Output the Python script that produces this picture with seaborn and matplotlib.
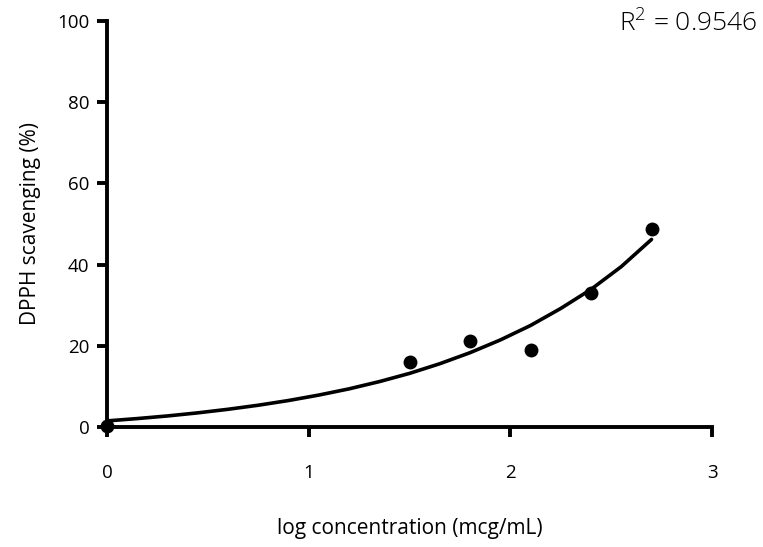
import matplotlib
matplotlib.use("Agg")
import matplotlib.pyplot as plt
import seaborn as sns
import pandas as pd

# measured points
log_conc = [0.0, 1.5, 1.8, 2.1, 2.4, 2.7]
scavenging = [0.2, 16.1, 21.1, 19.0, 33.1, 48.7]

# fitted curve
curve_x = [0.0, 0.15, 0.3, 0.45, 0.6, 0.75, 0.9, 1.05, 1.2, 1.35, 1.5,
           1.65, 1.8, 1.95, 2.1, 2.25, 2.4, 2.55, 2.7]
curve_y = [1.5, 2.07, 2.72, 3.48, 4.36, 5.36, 6.52, 7.86, 9.39, 11.17, 13.2,
           15.58, 18.3, 21.43, 25.0, 29.2, 33.9, 39.5, 46.2]

x_ticks = [0, 1, 2, 3]
y_ticks = [0, 20, 40, 60, 80, 100]
r2_text = "R$^2$ = 0.9546"
x_label = "log concentration (mcg/mL)"
y_label = "DPPH scavenging (%)"

sns.set_theme(style="ticks")
plt.rcParams['font.family'] = ['Open Sans', 'DejaVu Sans']
plt.rcParams['mathtext.fontset'] = 'custom'
plt.rcParams['mathtext.rm'] = 'Open Sans:light'

pts = pd.DataFrame({"x": log_conc, "y": scavenging})
fit = pd.DataFrame({"x": curve_x, "y": curve_y})

fig = plt.figure(figsize=(7.63, 5.47), dpi=100)
ax = fig.add_axes([0.1402, 0.2194, 0.7930, 0.7422])

sns.lineplot(data=fit, x="x", y="y", ax=ax, color="black", linewidth=2.6,
             sort=True, estimator=None)
sns.scatterplot(data=pts, x="x", y="y", ax=ax, color="black", s=100,
                edgecolor="black", linewidth=0, zorder=5, clip_on=False)

ax.set_xlim(0, 3)
ax.set_ylim(0, 100)
ax.set_xticks(x_ticks)
ax.set_yticks(y_ticks)
ax.set_xticklabels([str(t) for t in x_ticks])
ax.set_yticklabels([str(t) for t in y_ticks])

for s in ["top", "right"]:
    ax.spines[s].set_visible(False)
for s in ["left", "bottom"]:
    ax.spines[s].set_linewidth(2.8)
    ax.spines[s].set_color("black")
    ax.spines[s].set_capstyle("projecting")

ax.tick_params(axis="both", direction="out", length=7.5, width=2.8,
               color="black", labelsize=13.5, labelcolor="black")
ax.tick_params(axis="x", pad=19)
ax.tick_params(axis="y", pad=5)

ax.set_xlabel(x_label, fontsize=15, labelpad=26, color="black")
ax.set_ylabel(y_label, fontsize=15, labelpad=12, color="black")

fig.text(0.992, 0.958, r2_text, ha="right", va="center", fontsize=19,
         color="black", fontweight="light")

fig.savefig("out.png", dpi=100, facecolor="white")
